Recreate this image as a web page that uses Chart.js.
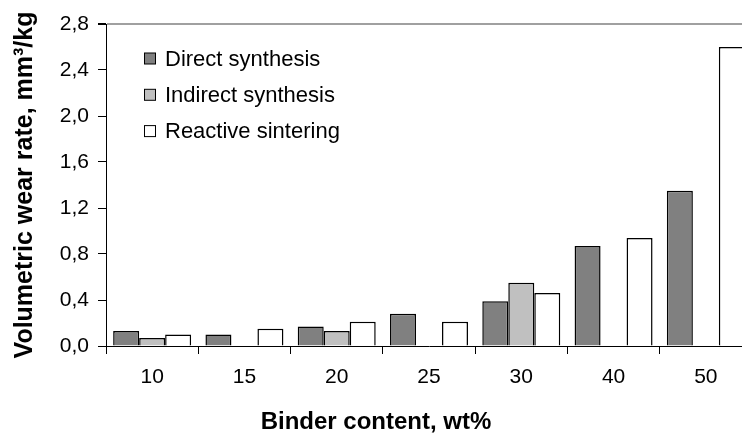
<!DOCTYPE html>
<html>
<head>
<meta charset="utf-8">
<script src="https://cdn.jsdelivr.net/npm/chart.js@4/dist/chart.umd.min.js"></script>
<style>
html,body{margin:0;padding:0;background:#fff;overflow:hidden;}
#wrap{width:760px;height:437px;}
</style>
</head>
<body>
<div id="wrap"><canvas id="c" width="760" height="437"></canvas></div>
<script>
/* data */
const categories = ["10", "15", "20", "25", "30", "40", "50"];
const seriesNames = ["Direct synthesis", "Indirect synthesis", "Reactive sintering"];
const direct = [0.13, 0.10, 0.17, 0.28, 0.39, 0.87, 1.35];
const indirect = [0.07, null, 0.13, null, 0.55, null, null];
const reactive = [0.10, 0.15, 0.21, 0.21, 0.46, 0.94, 2.60];
const yTicks = [0, 0.4, 0.8, 1.2, 1.6, 2.0, 2.4, 2.8];

const fills = ["#808080", "#c0c0c0", "#ffffff"];
const font = "Liberation Sans, Arial, sans-serif";

/* legend drawn inside plot */
const boxLegend = {
id: "boxLegend",
afterDraw(chart) {
const ctx = chart.ctx;
const a = chart.chartArea;
ctx.save();
ctx.font = "22px " + font;
ctx.textBaseline = "middle";
chart.data.datasets.forEach((ds, i) => {
let y = a.top + 34.5 + i * 36.3;
ctx.fillStyle = ds.backgroundColor;
ctx.fillRect(a.left + 38.5, y - 5.5, 11, 11);
ctx.strokeStyle = "#000";
ctx.lineWidth = 1;
ctx.strokeRect(a.left + 38.5, y - 5.5, 11, 11);
ctx.fillStyle = "#000";
ctx.fillText(ds.label, a.left + 59, y + 1);
});
ctx.restore();
}
};

new Chart(document.getElementById("c"), {
type: "bar",
data: {
labels: categories,
datasets: [
{label: seriesNames[0], data: direct, backgroundColor: fills[0]},
{label: seriesNames[1], data: indirect, backgroundColor: fills[1]},
{label: seriesNames[2], data: reactive, backgroundColor: fills[2]}
].map(d => Object.assign(d, {borderColor: "#000", borderWidth: 1.5, borderSkipped: "bottom", categoryPercentage: 0.845, barPercentage: 1}))
},
options: {
responsive: false,
animation: false,
layout: {padding: {top: 24, right: 8, bottom: 0, left: 0}},
plugins: {
legend: {display: false},
tooltip: {enabled: false},
title: {
display: true,
position: "bottom",
text: "Binder content, wt%",
color: "#000",
font: {family: font, size: 24, weight: "bold"},
padding: {top: 7, bottom: 0}
}
},
scales: {
x: {
grid: {offset: true, drawOnChartArea: false, tickLength: 8, tickColor: "#000"},
border: {color: "#000", width: 1},
ticks: {color: "#000", font: {family: font, size: 21}, padding: 11}
},
y: {
min: 0,
max: 2.8,
afterBuildTicks: s => { s.ticks = yTicks.map(v => ({value: v})); },
afterFit: s => { s.width = 106; },
grid: {
drawOnChartArea: true,
color: c => (c.tick && c.tick.value === 2.8) ? "#a0a0a0" : "rgba(0,0,0,0)",
lineWidth: c => (c.tick && c.tick.value === 2.8) ? 2 : 1,
tickColor: "#000",
tickLength: 8
},
border: {color: "#000", width: 1},
ticks: {
color: "#000",
font: {family: font, size: 21},
padding: 9,
callback: v => v.toFixed(1).replace(".", ",")
},
title: {
display: true,
text: "Volumetric wear rate, mm³/kg",
color: "#000",
font: {family: font, size: 25, weight: "bold"},
padding: {top: 10, bottom: 4}
}
}
}
},
plugins: [boxLegend]
});
</script>
</body>
</html>
